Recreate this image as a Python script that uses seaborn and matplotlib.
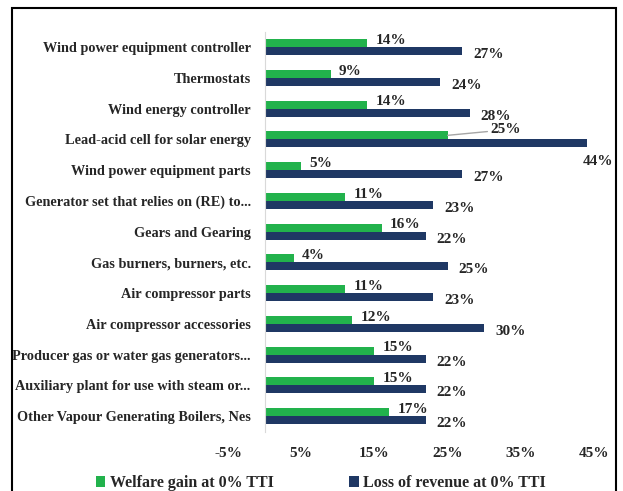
import matplotlib
matplotlib.use("Agg")
import matplotlib.pyplot as plt
import seaborn as sns
import pandas as pd
from matplotlib.patches import Patch, Rectangle
from matplotlib.ticker import FuncFormatter

categories = [
    "Wind power equipment controller",
    "Thermostats",
    "Wind energy controller",
    "Lead-acid cell for solar energy",
    "Wind power equipment parts",
    "Generator set that relies on (RE) to...",
    "Gears and Gearing",
    "Gas burners, burners, etc.",
    "Air compressor parts",
    "Air compressor accessories",
    "Producer gas or water gas generators...",
    "Auxiliary plant for use with steam or...",
    "Other Vapour Generating Boilers, Nes",
]
welfare = [14, 9, 14, 25, 5, 11, 16, 4, 11, 12, 15, 15, 17]
revenue = [27, 24, 28, 44, 27, 23, 22, 25, 23, 30, 22, 22, 22]
series = ["Welfare gain at 0% TTI", "Loss of revenue at 0% TTI"]
xticks = [-5, 5, 15, 25, 35, 45]

GREEN = "#22B24C"
NAVY = "#1F3864"
TXT = "#262626"
FONT = "Liberation Serif"

df = pd.DataFrame({
    "Category": categories * 2,
    "Value": [v / 100 for v in welfare + revenue],
    "Series": [series[0]] * len(categories) + [series[1]] * len(categories),
})

sns.set_style("white")
plt.rcParams["font.family"] = [FONT, "DejaVu Serif"]
plt.rcParams["font.weight"] = "bold"

fig = plt.figure(figsize=(6.23, 4.91), dpi=100)
ax = fig.add_axes([0.366, 0.121, 0.5875, 0.8145])
sns.barplot(data=df, y="Category", x="Value", hue="Series",
            palette=[GREEN, NAVY], width=0.52, orient="h", ax=ax,
            legend=False, saturation=1, linewidth=0, edgecolor="none")

ax.set_xlim(-0.05, 0.45)
ax.set_xticks([t / 100 for t in xticks])
ax.xaxis.set_major_formatter(FuncFormatter(lambda v, p: f"{round(v*100)}%"))
ax.set_xlabel("")
ax.set_ylabel("")
for s in ["top", "right", "bottom"]:
    ax.spines[s].set_visible(False)
ax.spines["left"].set_position(("data", 0))
ax.spines["left"].set_color("#d9d9d9")
ax.spines["left"].set_linewidth(0.8)
ax.tick_params(axis="both", length=0)
ax.tick_params(axis="y", pad=10, labelsize=10.3, labelcolor=TXT)
ax.tick_params(axis="x", pad=11, labelsize=11, labelcolor=TXT)
for lab in ax.get_yticklabels() + ax.get_xticklabels():
    lab.set_fontweight("bold")

# value labels
green_bars = ax.containers[0]
navy_bars = ax.containers[1]
for i, bar in enumerate(green_bars):
    xy = (bar.get_width(), bar.get_y() + bar.get_height() / 2)
    if i == 3:
        ax.annotate(f"{welfare[i]}%", xy=xy, xytext=(31, 4), textcoords="offset points",
                    ha="left", va="center", fontsize=11, fontweight="bold", color=TXT,
                    arrowprops=dict(arrowstyle="-", color="#a6a6a6", lw=1,
                                    shrinkA=0, shrinkB=0))
    else:
        ax.annotate(f"{welfare[i]}%", xy=xy, xytext=(6, 2), textcoords="offset points",
                    ha="left", va="center", fontsize=11, fontweight="bold", color=TXT)
for i, bar in enumerate(navy_bars):
    xy = (bar.get_width(), bar.get_y() + bar.get_height() / 2)
    if i == 3:
        ax.annotate(f"{revenue[i]}%", xy=xy, xytext=(-3, -13), textcoords="offset points",
                    ha="left", va="center", fontsize=11, fontweight="bold", color=TXT)
    else:
        ax.annotate(f"{revenue[i]}%", xy=xy, xytext=(8, -2.5), textcoords="offset points",
                    ha="left", va="center", fontsize=11, fontweight="bold", color=TXT)

handles = [Patch(facecolor=GREEN, edgecolor="none"), Patch(facecolor=NAVY, edgecolor="none")]
fig.legend(handles, series, loc="center", bbox_to_anchor=(0.515, 0.016), ncol=2,
           frameon=False, handlelength=0.6, handleheight=0.6, handletextpad=0.3,
           columnspacing=4.7, prop={"family": FONT, "weight": "bold", "size": 11.5},
           labelcolor=TXT)

fig.patches.append(Rectangle((12 / 623, -0.1), (616 - 12) / 623, 1 - 8 / 491 + 0.1,
                             transform=fig.transFigure, fill=False, edgecolor="black",
                             linewidth=1.5, clip_on=False))

fig.savefig("out.png", dpi=100)
